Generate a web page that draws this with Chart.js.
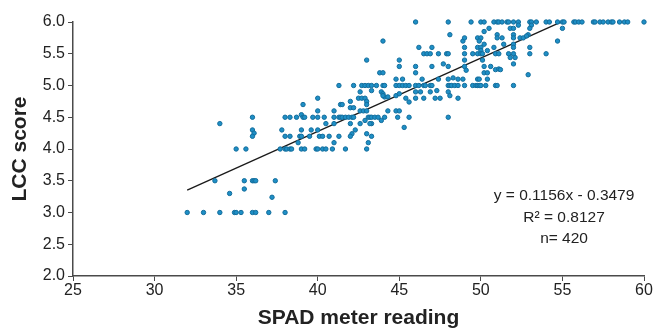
<!DOCTYPE html>
<html>
<head>
<meta charset="utf-8">
<script src="https://cdn.jsdelivr.net/npm/chart.js@4.4.0/dist/chart.umd.min.js"></script>
<style>
  html, body { margin: 0; padding: 0; background: #fff; }
  #wrap { width: 657px; height: 331px; position: relative; }
</style>
</head>
<body>
<div id="wrap"><canvas id="lccChart"></canvas></div>
<script>
// SPAD readings and matching LCC scores
const spad = [
  36.0, 38.0, 34.0, 36.0, 36.1, 36.0, 37.8, 38.0, 35.0, 35.6, 37.7, 38.0, 38.1,
  33.7, 35.5, 36.0, 36.1, 36.2, 37.4, 35.5, 34.6, 37.2,
  32.0, 33.0, 34.0, 34.9, 35.0, 35.3, 36.0, 36.2, 37.0, 38.0,
  44.0, 43.0, 45.0, 45.0, 43.8, 44.0, 44.8,
  41.3, 42.2, 42.7, 42.9, 43.1, 43.3, 43.6, 44.0, 44.1, 44.8, 45.0,
  42.6, 43.3, 43.9, 44.0,
  42.5, 42.7, 42.9, 44.1, 44.3, 44.0, 44.8, 45.0, 40.0,
  41.4, 41.5, 42.0, 43.0, 39.1, 42.0, 42.2, 43.0,
  40.0, 41.0, 42.6, 42.8, 43.0, 44.3, 44.8, 45.0, 39.0,
  38.3, 38.7, 39.1, 39.2, 39.7, 40.0, 40.4, 41.0, 41.3, 41.4, 41.5, 41.7, 41.9,
  42.1, 42.2, 43.1, 43.2, 43.3, 43.5, 43.7, 44.1, 44.9, 43.9,
  42.9, 43.3, 43.2, 41.0, 40.5, 42.0, 42.6,
  39.0, 39.6, 40.0, 42.3, 42.1, 43.0, 43.3,
  38.3, 38.9, 39.0, 39.5, 40.1, 40.3, 40.7, 41.3, 42.0,
  38.8, 41.0, 43.1,
  38.3, 38.4, 39.0, 39.2, 39.9, 40.0, 40.3, 40.5, 40.9, 41.7, 43.0,
  46.0, 48.0, 49.4, 48.1, 48.9, 49.0, 49.8,
  46.2, 47.0, 49.0, 49.8,
  46.5, 46.7, 46.9, 47.4, 47.9, 48.0, 49.0, 49.5, 49.8,
  49.0, 47.7, 46.0, 47.0, 48.0, 49.0, 49.1, 46.0,
  45.2, 46.4, 47.4, 48.0, 48.3, 48.6, 48.9, 49.8,
  45.2, 45.4, 45.6, 46.0, 46.2, 46.5, 46.6, 46.9, 47.0, 48.0, 48.1, 48.2, 48.4,
  48.6, 49.0, 49.5, 49.7, 49.8,
  46.0, 46.3, 46.9, 47.3, 48.0, 48.1,
  45.4, 46.0, 46.5, 47.2, 47.5, 48.6, 45.6, 45.6, 48.0, 45.3,
  50.0, 50.2, 50.8, 51.0, 51.1, 51.3, 51.6, 51.7, 52.0, 52.3, 53.0, 53.1, 53.4,
  54.0, 54.2, 54.7, 52.3, 53.1,
  51.8, 52.0, 53.0, 50.5, 50.2,
  51.0, 52.0, 52.9,
  50.0, 51.0, 51.3, 52.0, 52.4, 52.6, 52.8,
  49.9, 54.7, 50.2, 51.4, 52.0,
  50.0, 50.8, 52.0, 53.0, 50.0, 50.4,
  50.0, 50.1, 50.9, 51.1, 51.7, 52.0, 53.0, 54.0,
  51.8, 52.1, 50.1, 52.0,
  50.2, 50.6, 50.9, 51.1, 51.2, 50.2, 50.4, 52.9,
  49.9, 50.4, 49.9, 50.0, 50.3, 50.9, 51.0, 52.0,
  55.0, 55.1, 55.7, 55.8, 56.0, 56.2, 56.9, 57.0, 57.3, 57.5, 57.8, 58.0, 58.1,
  58.5, 58.8, 59.0, 60.0, 55.0
];
const lcc = [
  4.5, 4.5, 4.4, 4.3, 4.25, 4.2, 4.3, 4.2, 4.0, 4.0, 4.0, 4.0, 4.0,
  3.5, 3.5, 3.5, 3.5, 3.5, 3.5, 3.37, 3.3, 3.24,
  3.0, 3.0, 3.0, 3.0, 3.0, 3.0, 3.0, 3.0, 3.0, 3.0,
  5.7, 5.4, 5.4, 5.3, 5.2, 5.2, 5.1,
  5.0, 5.0, 5.0, 5.0, 5.0, 5.0, 5.0, 5.0, 5.0, 5.0, 5.0,
  4.9, 4.92, 4.9, 4.87,
  4.8, 4.8, 4.8, 4.82, 4.82, 4.84, 4.84, 4.87, 4.8,
  4.7, 4.7, 4.75, 4.75, 4.7, 4.65, 4.65, 4.7,
  4.6, 4.6, 4.6, 4.6, 4.6, 4.6, 4.6, 4.6, 4.54,
  4.5, 4.5, 4.5, 4.5, 4.5, 4.5, 4.5, 4.5, 4.5, 4.5, 4.5, 4.5, 4.5,
  4.5, 4.5, 4.5, 4.5, 4.5, 4.5, 4.5, 4.5, 4.5, 4.45,
  4.45, 4.4, 4.4, 4.4, 4.4, 4.4, 4.4,
  4.3, 4.3, 4.3, 4.3, 4.24, 4.24, 4.2,
  4.2, 4.2, 4.2, 4.2, 4.2, 4.2, 4.2, 4.2, 4.2,
  4.1, 4.1, 4.1,
  4.0, 4.0, 4.0, 4.0, 4.0, 4.0, 4.0, 4.0, 4.0, 4.0, 4.0,
  6.0, 6.0, 6.0, 5.8, 5.7, 5.75, 5.75,
  5.6, 5.6, 5.6, 5.6,
  5.5, 5.5, 5.5, 5.5, 5.5, 5.5, 5.5, 5.5, 5.5,
  5.4, 5.34, 5.3, 5.3, 5.3, 5.3, 5.24, 5.2,
  5.1, 5.1, 5.1, 5.1, 5.12, 5.1, 5.1, 5.1,
  5.0, 5.0, 5.0, 5.0, 5.0, 5.0, 5.0, 5.0, 5.0, 5.0, 5.0, 5.0, 5.0,
  5.0, 5.0, 5.0, 5.0, 5.0,
  4.9, 4.9, 4.9, 4.92, 4.9, 4.84,
  4.8, 4.8, 4.8, 4.8, 4.8, 4.8, 4.74, 4.5, 4.5, 4.34,
  6.0, 6.0, 6.0, 6.0, 6.0, 6.0, 6.0, 6.0, 6.0, 6.0, 6.0, 6.0, 6.0,
  6.0, 6.0, 6.0, 5.95, 5.95,
  5.9, 5.9, 5.9, 5.9, 5.85,
  5.8, 5.8, 5.8,
  5.75, 5.75, 5.75, 5.75, 5.75, 5.75, 5.78,
  5.7, 5.7, 5.65, 5.65, 5.65,
  5.6, 5.6, 5.6, 5.6, 5.55, 5.55,
  5.5, 5.5, 5.5, 5.5, 5.5, 5.5, 5.5, 5.5,
  5.44, 5.44, 5.4, 5.34,
  5.3, 5.3, 5.25, 5.26, 5.25, 5.2, 5.2, 5.17,
  5.1, 5.1, 5.0, 5.0, 5.0, 5.0, 5.0, 5.0,
  6.0, 6.0, 6.0, 6.0, 6.0, 6.0, 6.0, 6.0, 6.0, 6.0, 6.0, 6.0, 6.0,
  6.0, 6.0, 6.0, 6.0, 5.9
];

// linear fit printed on the chart
const slope = 0.1156;
const intercept = -0.3479;
const fitRange = [32, 54.9];
const fitLabels = ["y = 0.1156x - 0.3479", "R\u00b2 = 0.8127", "n= 420"];

const xTicks = [25, 30, 35, 40, 45, 50, 55, 60];
const yTicks = [2.0, 2.5, 3.0, 3.5, 4.0, 4.5, 5.0, 5.5, 6.0];

const points = spad.map((v, i) => ({ x: v, y: lcc[i] }));
const fitLine = fitRange.map(v => ({ x: v, y: slope * v + intercept }));

const axisColor = "#4a4a4a";
const tickFont = { family: "'Liberation Sans Narrow', 'Liberation Sans', Arial", size: 16 };
const titleFont = { family: "'Liberation Sans', Arial", size: 21, weight: "bold" };

const fitText = {
  id: "fitText",
  afterDraw(chart) {
    const c = chart.ctx;
    const px = chart.scales.x.getPixelForValue(55.1);
    const py = chart.scales.y.getPixelForValue(3.26);
    c.save();
    c.font = "15.5px 'Liberation Sans', Arial";
    c.fillStyle = "#222";
    c.textAlign = "center";
    c.textBaseline = "middle";
    fitLabels.forEach((t, i) => c.fillText(t, px, py + i * 21.5));
    c.restore();
  }
};

new Chart(document.getElementById("lccChart"), {
  type: "scatter",
  data: {
    datasets: [
      {
        label: "LCC",
        data: points,
        pointRadius: 2.2,
        pointBackgroundColor: "#1e8fc6",
        pointBorderColor: "#136d9c",
        pointBorderWidth: 1,
        clip: false,
      },
      {
        type: "line",
        label: "fit",
        data: fitLine,
        borderColor: "#1a1a1a",
        borderWidth: 1.3,
        pointRadius: 0,
        fill: false,
      },
    ],
  },
  options: {
    responsive: true,
    maintainAspectRatio: false,
    animation: false,
    layout: { padding: { top: 22, right: 13, left: 4, bottom: 0 } },
    plugins: {
      legend: { display: false },
      tooltip: { enabled: false },
    },
    scales: {
      x: {
        type: "linear",
        min: 25,
        max: 60,
        afterBuildTicks: s => { s.ticks = xTicks.map(v => ({ value: v })); },
        afterFit: s => { s.height = 55; },
        ticks: { color: "#222", font: tickFont, padding: 0, maxRotation: 0 },
        grid: { drawOnChartArea: false, drawTicks: true, tickLength: 5, color: axisColor },
        border: { color: axisColor, width: 1.5 },
        title: { display: true, text: "SPAD meter reading", color: "#222", font: titleFont, padding: { top: 7, bottom: 0 } },
      },
      y: {
        min: 2,
        max: 6,
        afterBuildTicks: s => { s.ticks = yTicks.map(v => ({ value: v })); },
        afterFit: s => { s.width = 69; },
        ticks: { color: "#222", font: tickFont, padding: 3, callback: v => v.toFixed(1) },
        grid: { drawOnChartArea: false, drawTicks: true, tickLength: 5, color: axisColor },
        border: { color: axisColor, width: 1.5 },
        title: { display: true, text: "LCC score", color: "#222", font: titleFont, padding: { bottom: 0 } },
      },
    },
  },
  plugins: [fitText],
});
</script>
</body>
</html>
